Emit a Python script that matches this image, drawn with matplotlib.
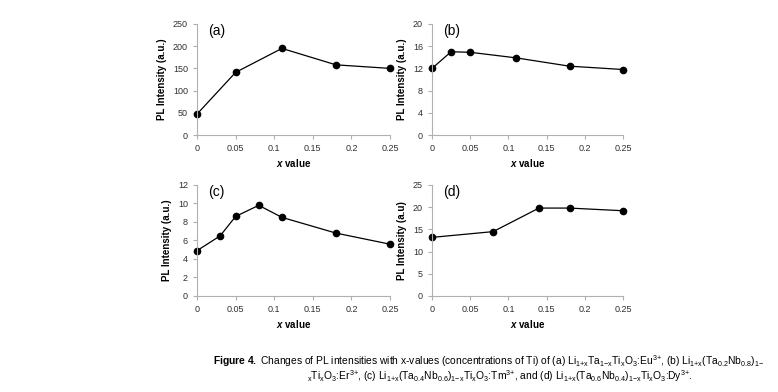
import matplotlib
matplotlib.use("Agg")
import matplotlib.pyplot as plt

plt.rcParams['font.family'] = ['Liberation Sans', 'DejaVu Sans']
plt.rcParams['mathtext.fontset'] = 'custom'
plt.rcParams['mathtext.rm'] = 'Liberation Sans'
plt.rcParams['mathtext.it'] = 'Liberation Sans:italic'
plt.rcParams['mathtext.bf'] = 'Liberation Sans:bold'
plt.rcParams['mathtext.bfit'] = 'Liberation Sans:italic:bold'

# data
xa = [0, 0.05, 0.11, 0.18, 0.25]
ya = [47, 141, 195, 158, 150]
xb = [0, 0.025, 0.05, 0.11, 0.18, 0.25]
yb = [12.0, 15.0, 14.9, 13.9, 12.4, 11.8]
xc = [0, 0.03, 0.05, 0.08, 0.11, 0.18, 0.25]
yc = [4.9, 6.5, 8.6, 9.8, 8.5, 6.8, 5.6]
xd = [0, 0.08, 0.14, 0.18, 0.25]
yd = [13.2, 14.5, 19.8, 19.8, 19.2]

xticks = [0, 0.05, 0.1, 0.15, 0.2, 0.25]
xticklabels = ["0", "0.05", "0.1", "0.15", "0.2", "0.25"]

panels = [
    # x, y, tag, yticks, ylabel, rect
    (xa, ya, "(a)", [0, 50, 100, 150, 200, 250], "PL Intensity (a.u.)", [0.2532, 0.6556, 0.2481, 0.2832]),
    (xb, yb, "(b)", [0, 4, 8, 12, 16, 20], "PL Intensity (a.u.)", [0.5553, 0.6556, 0.2455, 0.2832]),
    (xc, yc, "(c)", [0, 2, 4, 6, 8, 10, 12], "PL Intensity (a.u.)", [0.2532, 0.2449, 0.2481, 0.2832]),
    (xd, yd, "(d)", [0, 5, 10, 15, 20, 25], "PL Intensity (a.u)", [0.5553, 0.2449, 0.2455, 0.2832]),
]

fig = plt.figure(figsize=(7.78, 3.92), dpi=100)
grey = "#b0b0b0"

for x, y, tag, yt, ylab, rect in panels:
    ax = fig.add_axes(rect)
    ax.plot(x, y, color="black", lw=0.9, marker="o", ms=4.5, clip_on=False)
    ax.set_xlim(0, 0.25)
    ax.set_ylim(yt[0], yt[-1])
    ax.set_xticks(xticks)
    ax.set_xticklabels(xticklabels)
    ax.set_yticks(yt)
    ax.spines["top"].set_visible(False)
    ax.spines["right"].set_visible(False)
    for s in ("left", "bottom"):
        ax.spines[s].set_color(grey)
        ax.spines[s].set_linewidth(0.8)
    ax.tick_params(colors=grey, labelcolor="#303030", labelsize=6.5, length=3, width=0.8)
    ax.set_ylabel(ylab, fontsize=7, fontweight="bold", labelpad=4)
    ax.set_xlabel(r"$\mathbfit{x}$ value", fontsize=7, fontweight="bold", labelpad=3)
    ax.text(0.06, 1.0, tag, transform=ax.transAxes, fontsize=10, va="top", ha="left")

line1 = (r"$\mathbf{Figure\ 4.}$ Changes of PL intensities with x-values (concentrations of Ti) of "
         r"(a) Li$_{\mathrm{1{+}x}}$Ta$_{\mathrm{1{-}x}}$Ti$_{\mathrm{x}}$O$_{\mathrm{3}}$:Eu$^{\mathrm{3{+}}}$, "
         r"(b) Li$_{\mathrm{1{+}x}}$(Ta$_{\mathrm{0.2}}$Nb$_{\mathrm{0.8}}$)$_{\mathrm{1{-}}}$")
line2 = (r"$_{\mathrm{x}}$Ti$_{\mathrm{x}}$O$_{\mathrm{3}}$:Er$^{\mathrm{3{+}}}$, "
         r"(c) Li$_{\mathrm{1{+}x}}$(Ta$_{\mathrm{0.4}}$Nb$_{\mathrm{0.6}}$)$_{\mathrm{1{-}x}}$Ti$_{\mathrm{x}}$O$_{\mathrm{3}}$:Tm$^{\mathrm{3{+}}}$, "
         r"and (d) Li$_{\mathrm{1{+}x}}$(Ta$_{\mathrm{0.6}}$Nb$_{\mathrm{0.4}}$)$_{\mathrm{1{-}x}}$Ti$_{\mathrm{x}}$O$_{\mathrm{3}}$:Dy$^{\mathrm{3{+}}}$.")
fig.text(213 / 778, 1 - 361 / 392, line1, fontsize=7.35, ha="left", va="center")
fig.text(500 / 778, 1 - 376 / 392, line2, fontsize=7.35, ha="center", va="center")

fig.savefig("out.png", dpi=100)
